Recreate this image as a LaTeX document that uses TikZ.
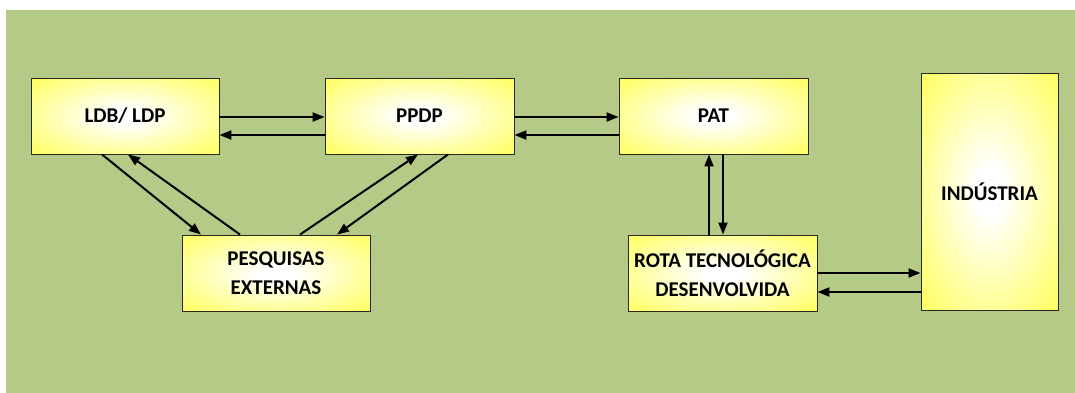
\documentclass[tikz,border=0pt]{standalone}
\usepackage{fontspec}
\setmainfont{Carlito}
\usetikzlibrary{arrows.meta}
\definecolor{bggreen}{RGB}{182,202,136}
\definecolor{yel}{RGB}{255,255,90}
\definecolor{boxline}{RGB}{40,40,30}
\pgfdeclareradialshading{boxshade}{\pgfpoint{0bp}{0bp}}{color(0bp)=(white); color(5bp)=(white); color(36bp)=(yel); color(100bp)=(yel)}
\begin{document}
\begin{tikzpicture}[x=1pt,y=-1pt,
  box/.style={draw=boxline, line width=0.9pt, shading=boxshade, rectangle, inner sep=0pt,
    align=center, font=\fontsize{21}{29}\selectfont\bfseries},
  conn/.style={line width=2pt, draw=black, -{Triangle[length=12pt,width=9pt]}}]
\useasboundingbox (0,0) rectangle (1075,392);
\fill[white] (-10,-10) rectangle (1090,410);
\fill[bggreen] (6,10) rectangle (1090,410);

\node[box, minimum width=188pt, minimum height=76pt] (ldb) at (125,116) {LDB/ LDP};
\node[box, minimum width=189pt, minimum height=76pt] (ppdp) at (419.5,116) {PPDP};
\node[box, minimum width=189pt, minimum height=76pt] (pat) at (713.5,116) {PAT};
\node[box, minimum width=188pt, minimum height=76pt] (pesq) at (276,273) {PESQUISAS\\EXTERNAS};
\node[box, minimum width=189pt, minimum height=76pt] (rota) at (722.5,273) {ROTA TECNOLÓGICA\\DESENVOLVIDA};
\node[box, minimum width=137pt, minimum height=237pt] (ind) at (989.5,191.5) {INDÚSTRIA};

% LDB <-> PPDP
\draw[conn] ([yshift=-1pt]ldb.east) -- ([yshift=-1pt]ppdp.west);
\draw[conn] ([yshift=-19pt]ppdp.west) -- ([yshift=-19pt]ldb.east);
% PPDP <-> PAT
\draw[conn] ([yshift=-1pt]ppdp.east) -- ([yshift=-1pt]pat.west);
\draw[conn] ([yshift=-19pt]pat.west) -- ([yshift=-19pt]ppdp.east);
% PAT <-> ROTA
\draw[conn] ([xshift=-13.5pt]rota.north) -- ([xshift=-4.5pt]pat.south);
\draw[conn] ([xshift=9.5pt]pat.south) -- ([xshift=0.5pt]rota.north);
% ROTA <-> IND
\draw[conn] (rota.east) -- (ind.west |- rota.east);
\draw[conn] ([yshift=-100.5pt]ind.west) -- ([yshift=-19pt]rota.east);
% LDB <-> PESQ
\draw[conn] ([xshift=-23pt]ldb.south) -- ([xshift=-75pt]pesq.north);
\draw[conn] ([xshift=-36pt]pesq.north) -- ([xshift=3pt]ldb.south);
% PPDP <-> PESQ
\draw[conn] ([xshift=24pt]pesq.north) -- ([xshift=-1.5pt]ppdp.south);
\draw[conn] ([xshift=28.5pt]ppdp.south) -- ([xshift=61pt]pesq.north);
\end{tikzpicture}
\end{document}
